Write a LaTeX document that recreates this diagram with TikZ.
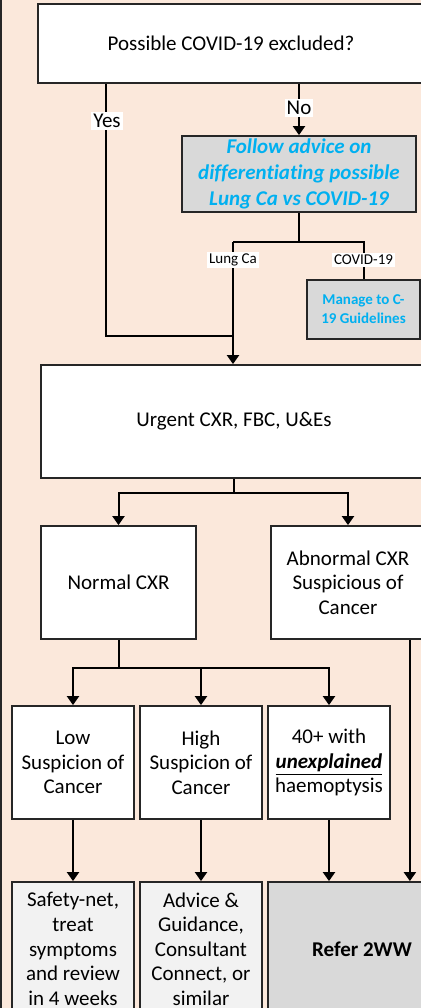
\documentclass[tikz,border=0pt]{standalone}
\usepackage{fontspec}
\setmainfont{Carlito}[Ligatures=NoCommon]
\usetikzlibrary{calc,positioning,arrows.meta}
\definecolor{Peach}{RGB}{251,232,219}
\definecolor{Edge}{RGB}{38,38,38}
\definecolor{GreyBox}{RGB}{217,217,217}
\definecolor{PaleBox}{RGB}{242,242,242}
\definecolor{CyanText}{RGB}{0,176,240}
\newcommand{\Px}{0.5pt}
\tikzset{Box/.style={
    inner sep=0pt,
    draw=Edge,
    line width=0.9pt,
    fill=white,
    align=center,
    font=\fontsize{10.5}{12.3}\selectfont,
    }
}

\begin{document}
\begin{tikzpicture}[x=\Px, y=-\Px,
    Line/.style={line width=1pt, black},
    Arr/.style={Line, -{Triangle[width=6pt,length=4.5pt]}},
    Lbl/.style={fill=white, inner sep=1pt, font=\fontsize{10.5}{12}\selectfont},
    SmallLbl/.style={fill=white, inner sep=1pt, font=\fontsize{7.5}{8}\selectfont},
    Blue/.style={text=CyanText, font=\fontsize{10.5}{13}\selectfont\bfseries\itshape},
]
\fill[Peach] (0,0) rectangle (421,1008);
\useasboundingbox (0,0) rectangle (421,1008);
\clip (0,0) rectangle (421,1008);
\draw[line width=1pt, Edge] (0.5,0) -- (0.5,1008);

% question and covid branch
\node [Box, minimum width=193pt, minimum height=39.5pt] (q) at (231,43.5) {Possible COVID-19 excluded?};
\node [Box, fill=GreyBox, Blue, minimum width=117pt, minimum height=38pt] (adv) at (299,174)
    {Follow advice on\\differentiating possible\\Lung Ca vs COVID-19};
\node [Box, fill=GreyBox, minimum width=56.5pt, minimum height=29.5pt,
    text=CyanText, font=\fontsize{7.5}{9.5}\selectfont\bfseries] (mng) at (363.5,309.5)
    {Manage to C-\\19 Guidelines};
\node [Box, minimum width=193pt, minimum height=56.5pt] (cxr) at (234,421.5) {Urgent CXR, FBC, U\&Es};

\coordinate (yesb) at (106,336);
\coordinate (lungb) at (233,242);
\coordinate (covb) at (363.5,242);
\draw[Line] (q.south -| yesb) -- (yesb) -- (yesb -| lungb);
\draw[Arr] (q.south -| adv.north) -- (adv.north);
\draw[Line] (adv.south) -- (adv.south |- lungb);
\draw[Line] (lungb) -- (covb) -- (mng.north);
\draw[Arr] (lungb) -- (lungb |- cxr.north);
\node [Lbl] (yes) at (107,121) {Yes};
\node [Lbl] (no) at (299,108) {No};
\node [SmallLbl] (lung) at (233,260) {Lung Ca};
\node [SmallLbl] (cov) at (363.5,260) {COVID-19};

% x-ray results
\node [Box, minimum width=77.5pt, minimum height=56.5pt] (norm) at (118.5,582.5) {Normal CXR};
\node [Box, minimum width=77pt, minimum height=56.5pt] (abn) at (348,582.5)
    {Abnormal CXR\\Suspicious of\\Cancer};
\coordinate (b1) at (0,493);
\draw[Arr] (cxr.south) -- (cxr.south |- b1) -| (norm.north);
\draw[Arr] (cxr.south |- b1) -| (abn.north);

\node [Box, minimum width=61pt, minimum height=56.5pt] (low) at (73,762.5) {Low\\Suspicion of\\Cancer};
\node [Box, minimum width=61pt, minimum height=56.5pt] (high) at (201,762.5) {High\\Suspicion of\\Cancer};
\node [Box, minimum width=61pt, minimum height=56.5pt] (forty) at (329,762.5)
    {40+ with\\\textbf{\textit{\underline{unexplained}}}\\haemoptysis};
\coordinate (b2) at (0,668);
\draw[Arr] (norm.south) -- (norm.south |- b2) -| (low.north);
\draw[Arr] (norm.south |- b2) -| (high.north);
\draw[Arr] (norm.south |- b2) -| (forty.north);

% outcomes
\node [Box, fill=PaleBox, minimum width=61pt, minimum height=67pt] (safe) at (73,949)
    {Safety-net,\\treat\\symptoms\\and review\\in 4 weeks};
\node [Box, fill=PaleBox, minimum width=61pt, minimum height=67pt] (guide) at (201,949)
    {Advice \&\\Guidance,\\Consultant\\Connect, or\\similar};
\node [Box, fill=GreyBox, minimum width=94pt, minimum height=67pt, font=\fontsize{10.5}{12}\selectfont\bfseries] (ref) at (362,949) {Refer 2WW};
\coordinate (abr) at ($(abn.south east)+(-16,0)$);
\draw[Arr] (low.south) -- (safe.north);
\draw[Arr] (high.south) -- (guide.north);
\draw[Arr] (forty.south) -- (forty.south |- ref.north);
\draw[Arr] (abr) -- (abr |- ref.north);
\end{tikzpicture}
\end{document}
